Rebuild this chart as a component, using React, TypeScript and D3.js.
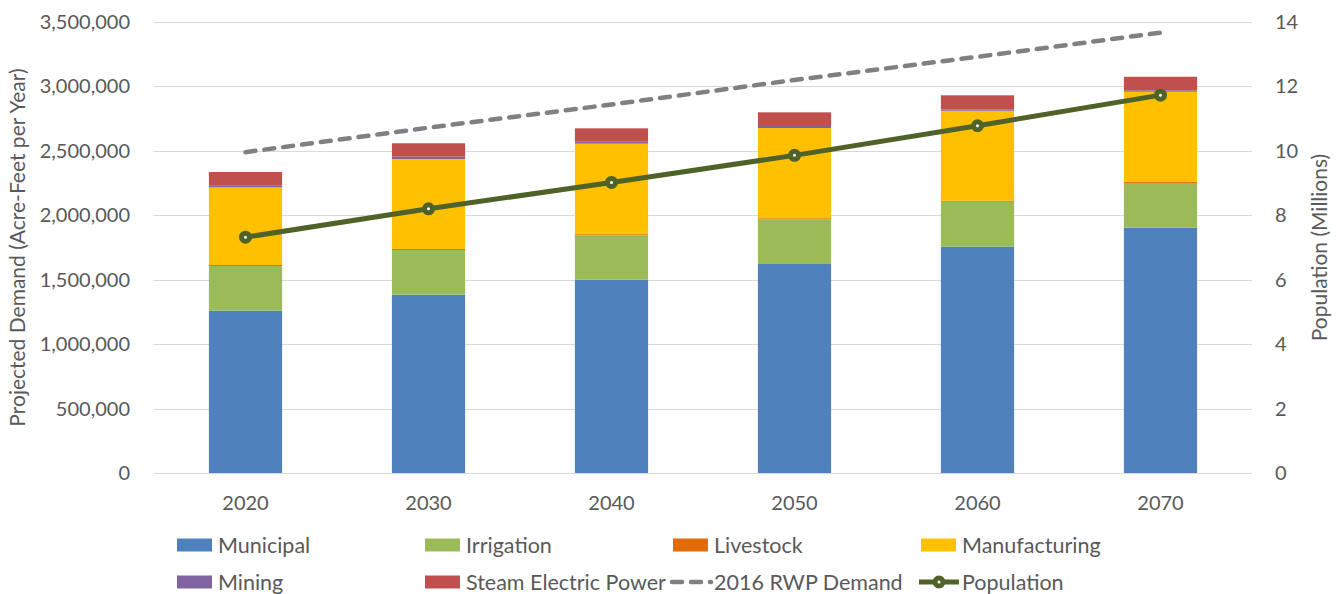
import React, { useEffect, useRef } from "react";
import * as d3 from "d3";

const years = ["2020", "2030", "2040", "2050", "2060", "2070"];
const municipal = [1260000, 1384000, 1500000, 1622000, 1756000, 1904000];
const irrigation = [346000, 347000, 345000, 347000, 349000, 347000];
const livestock = [8000, 8000, 8000, 8000, 8000, 8000];
const manufacturing = [603000, 698000, 703000, 700000, 698000, 700000];
const mining = [16000, 18000, 15000, 16000, 11000, 11000];
const steamElectric = [103000, 104000, 104000, 106000, 109000, 105000];
const rwpDemand2016 = [2490000, 2680000, 2860000, 3050000, 3230000, 3417000];
const population = [7.32, 8.2, 9.02, 9.86, 10.78, 11.73];

const leftTicks = [0, 500000, 1000000, 1500000, 2000000, 2500000, 3000000, 3500000];
const rightTicks = [0, 2, 4, 6, 8, 10, 12, 14];

const seriesNames = ["Municipal", "Irrigation", "Livestock", "Manufacturing", "Mining", "Steam Electric Power"];
const seriesColors = ["#4F81BD", "#9BBB59", "#E36C09", "#FFC000", "#8064A2", "#C0504D"];

const W = 1341;
const H = 594;
const FONT = "Lato, 'Open Sans', sans-serif";
const TEXT = "#595959";

const App: React.FC = () => {
  const svgRef = useRef<SVGSVGElement>(null);

  useEffect(() => {
    if (!svgRef.current) return;
    const svg = d3.select(svgRef.current);
    svg.selectAll("*").remove();

    const left = 154;
    const right = 1252;
    const top = 22;
    const bottom = 473;

    const x = d3.scaleBand<string>().domain(years).range([left, right]).paddingInner(0.6).paddingOuter(0.3);
    const y = d3.scaleLinear().domain([0, 3500000]).range([bottom, top]);
    const y2 = d3.scaleLinear().domain([0, 14]).range([bottom, top]);

    // gridlines
    svg
      .append("g")
      .selectAll("line")
      .data(leftTicks)
      .join("line")
      .attr("x1", left)
      .attr("x2", right)
      .attr("y1", (d) => Math.round(y(d)) + 0.5)
      .attr("y2", (d) => Math.round(y(d)) + 0.5)
      .attr("stroke", "#d9d9d9")
      .attr("stroke-width", 1);

    // stacked bars
    const rows = years.map((yr, i) => ({
      year: yr,
      s0: municipal[i],
      s1: irrigation[i],
      s2: livestock[i],
      s3: manufacturing[i],
      s4: mining[i],
      s5: steamElectric[i],
    }));
    const keys = ["s0", "s1", "s2", "s3", "s4", "s5"];
    const stacked = d3.stack<any>().keys(keys)(rows);

    svg
      .append("g")
      .selectAll("g")
      .data(stacked)
      .join("g")
      .attr("fill", (_d, i) => seriesColors[i])
      .selectAll("rect")
      .data((d) => d)
      .join("rect")
      .attr("x", (d: any) => x(d.data.year)!)
      .attr("width", x.bandwidth())
      .attr("y", (d) => y(d[1]))
      .attr("height", (d) => y(d[0]) - y(d[1]));

    // 2016 RWP demand dashed line
    const line = d3
      .line<number>()
      .x((_d, i) => x(years[i])! + x.bandwidth() / 2)
      .y((d) => y(d));

    svg
      .append("path")
      .datum(rwpDemand2016)
      .attr("fill", "none")
      .attr("stroke", "#808080")
      .attr("stroke-width", 4.5)
      .attr("stroke-linecap", "round")
      .attr("stroke-dasharray", "10 9")
      .attr("d", line);

    // population line
    const popLine = d3
      .line<number>()
      .x((_d, i) => x(years[i])! + x.bandwidth() / 2)
      .y((d) => y2(d));

    svg
      .append("path")
      .datum(population)
      .attr("fill", "none")
      .attr("stroke", "#4F6228")
      .attr("stroke-width", 5)
      .attr("stroke-linejoin", "round")
      .attr("d", popLine);

    svg
      .append("g")
      .selectAll("circle")
      .data(population)
      .join("circle")
      .attr("cx", (_d, i) => x(years[i])! + x.bandwidth() / 2)
      .attr("cy", (d) => y2(d))
      .attr("r", 4)
      .attr("fill", "#fff")
      .attr("stroke", "#4F6228")
      .attr("stroke-width", 5);

    // left axis labels
    const fmt = d3.format(",");
    svg
      .append("g")
      .selectAll("text")
      .data(leftTicks)
      .join("text")
      .attr("x", 130)
      .attr("y", (d) => y(d))
      .attr("dy", "0.35em")
      .attr("text-anchor", "end")
      .attr("font-family", FONT)
      .attr("font-size", 20)
      .attr("fill", TEXT)
      .text((d) => fmt(d));

    // right axis labels
    svg
      .append("g")
      .selectAll("text")
      .data(rightTicks)
      .join("text")
      .attr("x", 1275)
      .attr("y", (d) => y2(d))
      .attr("dy", "0.35em")
      .attr("text-anchor", "start")
      .attr("font-family", FONT)
      .attr("font-size", 20)
      .attr("fill", TEXT)
      .text((d) => String(d));

    // x labels
    svg
      .append("g")
      .selectAll("text")
      .data(years)
      .join("text")
      .attr("x", (d) => x(d)! + x.bandwidth() / 2)
      .attr("y", 510)
      .attr("text-anchor", "middle")
      .attr("font-family", FONT)
      .attr("font-size", 20)
      .attr("fill", TEXT)
      .text((d) => d);

    // axis titles
    svg
      .append("text")
      .attr("transform", `translate(25, ${(top + bottom) / 2}) rotate(-90)`)
      .attr("text-anchor", "middle")
      .attr("font-family", FONT)
      .attr("font-size", 21)
      .attr("fill", TEXT)
      .text("Projected Demand (Acre-Feet per Year)");

    svg
      .append("text")
      .attr("transform", `translate(1327, ${(top + bottom) / 2}) rotate(-90)`)
      .attr("text-anchor", "middle")
      .attr("font-family", FONT)
      .attr("font-size", 21)
      .attr("fill", TEXT)
      .text("Population (Millions)");

    // legend
    const cols = [177, 425, 673, 921];
    const rowsY = [545, 582];
    const legendItems = [
      ...seriesNames.map((n, i) => ({ name: n, kind: "rect", color: seriesColors[i] })),
      { name: "2016 RWP Demand", kind: "dash", color: "#808080" },
      { name: "Population", kind: "pop", color: "#4F6228" },
    ];
    legendItems.forEach((item, i) => {
      const cx = cols[i % 4];
      const cy = rowsY[Math.floor(i / 4)];
      const g = svg.append("g");
      if (item.kind === "rect") {
        g.append("rect")
          .attr("x", cx)
          .attr("y", cy - 6.5)
          .attr("width", 35)
          .attr("height", 13)
          .attr("fill", item.color);
      } else if (item.kind === "dash") {
        g.append("line")
          .attr("x1", cx - 1)
          .attr("x2", cx + 38)
          .attr("y1", cy)
          .attr("y2", cy)
          .attr("stroke", item.color)
          .attr("stroke-width", 4.5)
          .attr("stroke-linecap", "round")
          .attr("stroke-dasharray", "10 9");
      } else {
        g.append("line")
          .attr("x1", cx - 2)
          .attr("x2", cx + 38)
          .attr("y1", cy)
          .attr("y2", cy)
          .attr("stroke", item.color)
          .attr("stroke-width", 5);
        g.append("circle")
          .attr("cx", cx + 18)
          .attr("cy", cy)
          .attr("r", 4)
          .attr("fill", "#fff")
          .attr("stroke", item.color)
          .attr("stroke-width", 5);
      }
      g.append("text")
        .attr("x", cx + 41)
        .attr("y", cy)
        .attr("dy", "0.35em")
        .attr("font-family", FONT)
        .attr("font-size", 21.5)
        .attr("fill", TEXT)
        .text(item.name);
    });
  }, []);

  return (
    <div style={{ position: "absolute", left: 0, top: 0 }}>
      <svg ref={svgRef} width={W} height={H} style={{ display: "block", background: "#fff" }} />
    </div>
  );
};

export default App;
